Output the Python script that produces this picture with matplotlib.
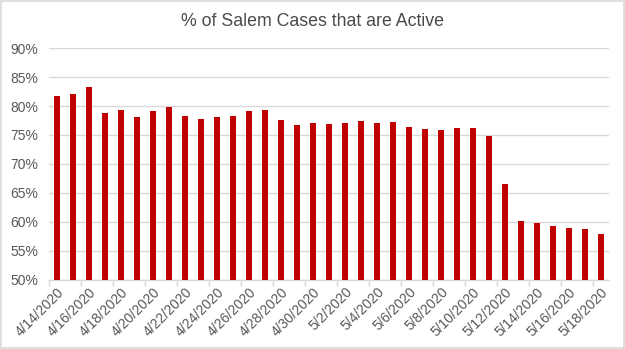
import matplotlib
matplotlib.use("Agg")
import matplotlib.pyplot as plt
from matplotlib.ticker import FixedLocator, FuncFormatter
from matplotlib.patches import Rectangle

dates = ["4/14/2020", "4/15/2020", "4/16/2020", "4/17/2020", "4/18/2020", "4/19/2020",
         "4/20/2020", "4/21/2020", "4/22/2020", "4/23/2020", "4/24/2020", "4/25/2020",
         "4/26/2020", "4/27/2020", "4/28/2020", "4/29/2020", "4/30/2020", "5/1/2020",
         "5/2/2020", "5/3/2020", "5/4/2020", "5/5/2020", "5/6/2020", "5/7/2020",
         "5/8/2020", "5/9/2020", "5/10/2020", "5/11/2020", "5/12/2020", "5/13/2020",
         "5/14/2020", "5/15/2020", "5/16/2020", "5/17/2020", "5/18/2020"]
active_pct = [81.7, 82.1, 83.3, 78.8, 79.4, 78.1, 79.1, 79.8, 78.3, 77.75, 78.2, 78.3,
              79.1, 79.4, 77.6, 76.8, 77.0, 76.9, 77.1, 77.4, 77.1, 77.2, 76.4, 76.0,
              75.8, 76.2, 76.2, 74.9, 66.6, 60.2, 59.7, 59.2, 58.9, 58.7, 57.9]
y_ticks = [50, 55, 60, 65, 70, 75, 80, 85, 90]
title = "% of Salem Cases that are Active"

plt.rcParams['font.family'] = ['Liberation Sans', 'DejaVu Sans']

fig = plt.figure(figsize=(6.25, 3.49), dpi=100)
ax = fig.add_axes([49/625, 1 - 279.5/349, (609-49)/625, (279.5-48.3)/349])

x = list(range(len(dates)))
ax.bar(x, active_pct, width=0.42, color="#C00000", zorder=3)

ax.set_ylim(50, 90)
ax.set_xlim(-0.5, len(dates) - 0.5)
ax.set_yticks(y_ticks)
ax.yaxis.set_major_formatter(FuncFormatter(lambda v, p: f"{int(v)}%"))
ax.grid(axis="y", color="#d9d9d9", linewidth=1.0, zorder=0)
ax.tick_params(axis="y", length=0, labelsize=10, labelcolor="#595959", pad=8)

# major ticks between categories (every 2), labels on minor ticks
ax.xaxis.set_major_locator(FixedLocator([i - 0.5 for i in range(0, len(dates) + 1, 2)]))
ax.xaxis.set_major_formatter(FuncFormatter(lambda v, p: ""))
ax.xaxis.set_minor_locator(FixedLocator(list(range(0, len(dates), 2))))
ax.set_xticklabels([dates[i] for i in range(0, len(dates), 2)], minor=True)
ax.tick_params(axis="x", which="major", length=4, color="#d9d9d9", width=1)
ax.tick_params(axis="x", which="minor", length=0, labelsize=10, labelcolor="#595959", pad=4)
for lbl in ax.get_xticklabels(minor=True):
    lbl.set_rotation(45)
    lbl.set_ha("right")
    lbl.set_rotation_mode("anchor")

for s in ["top", "right", "left"]:
    ax.spines[s].set_visible(False)
ax.spines["bottom"].set_color("#d9d9d9")
ax.spines["bottom"].set_linewidth(1)

fig.text(0.5, 1 - 21/349, title, ha="center", va="center", fontsize=12.8, color="#4a4a4a")

fig.patches.append(Rectangle((0.002, 0.003), 0.996, 0.994, transform=fig.transFigure,
                             fill=False, edgecolor="#d9d9d9", linewidth=1.2))

fig.savefig("out.png", dpi=100)
